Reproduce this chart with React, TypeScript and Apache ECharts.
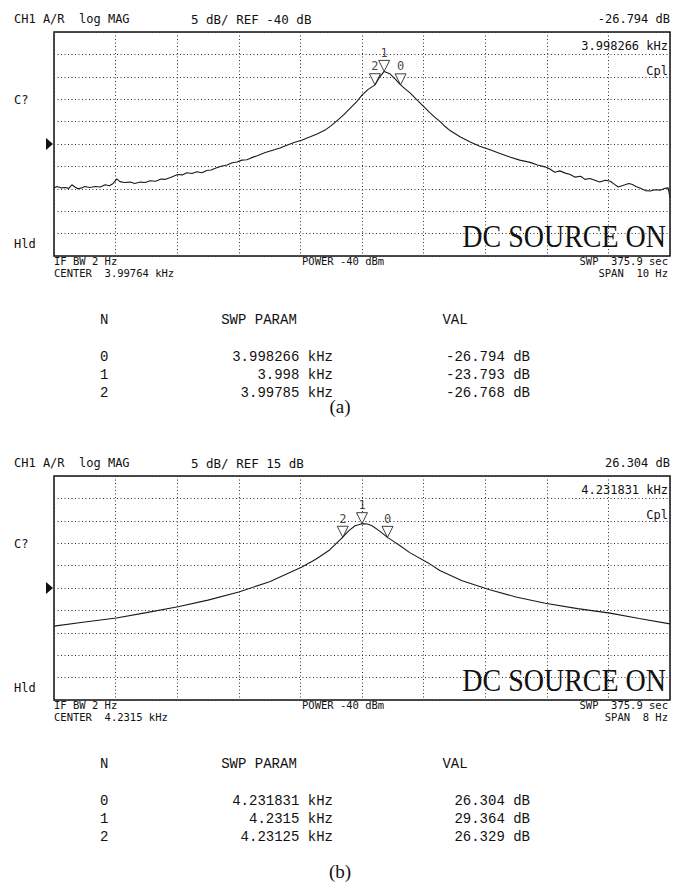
import React, { useEffect, useRef } from "react";
import * as echarts from "echarts";

// ---------- data ----------
const dbPerDiv = 5;
const refLevelA = -40;
const refLevelB = 15;
const centerA_kHz = 3.99764;
const centerB_kHz = 4.2315;
const spanA_Hz = 10;
const spanB_Hz = 8;

const markerIds = ["0", "1", "2"];
const markerFreqA_kHz = [3.998266, 3.998, 3.99785];
const markerValA_dB = [-26.794, -23.793, -26.768];
const markerFreqB_kHz = [4.231831, 4.2315, 4.23125];
const markerValB_dB = [26.304, 29.364, 26.329];

// trace (a): frequency offset from center (Hz), magnitude (dB)
const traceA_offHz = [
  -5.0, -4.95, -4.88, -4.82, -4.76, -4.71, -4.66, -4.61, -4.55, -4.5, -4.42, -4.33, -4.25, -4.17, -4.1, -4.04,
  -3.98, -3.93, -3.86, -3.76, -3.69, -3.6, -3.52, -3.44, -3.35, -3.26, -3.2, -3.1, -2.99, -2.92, -2.84, -2.76,
  -2.68, -2.6, -2.52, -2.45, -2.36, -2.27, -2.19, -2.11, -2.03, -1.95, -1.87, -1.8, -1.7, -1.57, -1.45, -1.33,
  -1.21, -1.09, -0.97, -0.84, -0.72, -0.6, -0.5, -0.39, -0.29, -0.19, -0.09, 0.0, 0.1, 0.21, 0.29, 0.36, 0.45,
  0.54, 0.626, 0.7, 0.78, 0.86, 0.94, 1.02, 1.1, 1.19, 1.27, 1.35, 1.43, 1.59, 1.75, 1.91, 2.08, 2.24, 2.4,
  2.56, 2.73, 2.85, 2.97, 3.05, 3.13, 3.21, 3.3, 3.38, 3.46, 3.55, 3.62, 3.7, 3.78, 3.86, 3.95, 4.03, 4.1,
  4.16, 4.22, 4.27, 4.33, 4.38, 4.45, 4.51, 4.6, 4.68, 4.76, 4.84, 4.92, 4.97, 5.0,
];
const traceA_dB = [
  -49.8, -49.5, -49.8, -49.7, -49.9, -49.1, -49.6, -50.0, -49.8, -49.5, -49.7, -49.5, -49.6, -49.1, -49.3, -48.8,
  -47.8, -48.4, -48.6, -48.5, -48.8, -48.5, -48.6, -48.2, -48.3, -47.8, -47.9, -47.4, -46.8, -46.9, -46.4, -46.6,
  -46.2, -46.4, -45.9, -45.8, -45.3, -44.9, -44.7, -44.2, -44.0, -43.6, -43.5, -43.1, -42.6, -41.9, -41.4, -40.9,
  -40.2, -39.6, -39.1, -38.4, -37.7, -36.9, -35.9, -34.6, -33.4, -32.0, -30.6, -29.1, -27.8, -26.8, -25.0, -23.8, -24.3,
  -25.5, -26.8, -27.7, -28.6, -29.7, -30.8, -31.9, -33.0, -34.1, -35.0, -36.1, -37.0, -38.4, -39.5, -40.5, -41.3, -42.1, -42.9,
  -43.6, -44.1, -44.7, -45.1, -45.6, -46.3, -46.0, -46.5, -46.8, -47.4, -47.2, -47.9, -47.7, -48.1, -48.5, -48.1, -48.3, -49.0,
  -49.6, -49.3, -49.1, -48.8, -49.0, -49.5, -49.8, -50.4, -50.5, -50.2, -50.3, -49.9, -49.8, -52.0,
];

// trace (b)
const traceB_offHz = [
  -4.0, -3.6, -3.19, -2.8, -2.39, -2.0, -1.6, -1.2, -0.78, -0.6, -0.42, -0.29, -0.25, -0.17, -0.09, 0.0, 0.07,
  0.13, 0.23, 0.331, 0.41, 0.49, 0.62, 0.86, 1.01, 1.3, 1.66, 2.0, 2.38, 2.8, 3.22, 3.6, 4.0,
];
const traceB_dB = [
  6.5, 7.4, 8.3, 9.5, 10.8, 12.3, 14.1, 16.4, 19.7, 21.4, 23.5, 25.7, 26.33, 27.8, 28.9, 29.36, 29.3,
  28.9, 27.7, 26.3, 25.4, 24.5, 22.9, 20.6, 18.9, 16.6, 14.6, 13.0, 11.6, 10.4, 9.4, 8.2, 7.0,
];

const ifBwText = "IF BW 2 Hz";
const powerText = "POWER -40 dBm";
const sweepText = "SWP  375.9 sec";
const captions = ["(a)", "(b)"];

// ---------- layout ----------
const W = 686;
const H = 887;
const GL = 54;
const GW = 616;
const GH = 224;
const panelTops = [32, 476];
const captionYs = [406, 871];

const MONO = "'DejaVu Sans Mono', monospace";
const TABLE = "'Liberation Mono', monospace";
const SERIF = "'Liberation Serif', 'Times New Roman', serif";

function txt(text: string, x: number, y: number, font: string, align = "left", extra: any = {}) {
  return {
    type: "text",
    x,
    y,
    silent: true,
    z: 100,
    ...extra,
    style: {
      text,
      x: 0,
      y: 0,
      font,
      fill: "#111",
      align,
      textAlign: align,
      verticalAlign: extra.vAlign || "middle",
      textVerticalAlign: extra.vAlign || "middle",
    },
  };
}

function panelGraphics(i: number, ref: number, center: number, span: number, freqs: number[], vals: number[]) {
  const top = panelTops[i];
  const f12 = `12px ${MONO}`;
  const f11 = `10.5px ${MONO}`;
  const fT = `14px ${TABLE}`;
  const els: any[] = [
    txt("CH1 A/R  log MAG", 14, top - 13, f12),
    txt(`${dbPerDiv} dB/ REF ${ref} dB`, 191, top - 13, `12.5px ${MONO}`),
    txt(`${vals[0].toFixed(3)} dB`, 670, top - 13, f12, "right"),
    txt(`${freqs[0]} kHz`, 668, top + 14, f12, "right"),
    txt("Cpl", 668, top + 39, f12, "right"),
    txt("C?", 14, top + 68, f12),
    txt("Hld", 14, top + 212, f12),
    {
      type: "polygon",
      silent: true,
      shape: { points: [[46, top + GH / 2 - 6], [46, top + GH / 2 + 6], [53, top + GH / 2]] },
      style: { fill: "#111" },
    },
    {
      type: "text",
      x: 666,
      y: top + 220,
      scaleY: 1.1,
      silent: true,
      z: 100,
      style: {
        text: "DC SOURCE ON",
        x: 0,
        y: 0,
        font: `28px ${SERIF}`,
        fill: "#111",
        align: "right",
        textAlign: "right",
        verticalAlign: "bottom",
        textVerticalAlign: "bottom",
      },
    },
    txt(ifBwText, 54, top + 229, f11),
    txt(`CENTER  ${center} kHz`, 54, top + 241, f11),
    txt(powerText, 302, top + 229, f11),
    txt(sweepText, 668, top + 229, f11, "right"),
    txt(`SPAN  ${span} Hz`, 668, top + 241, f11, "right"),
    txt("N", 100, top + 288, fT),
    txt("SWP PARAM", 259, top + 288, fT, "center"),
    txt("VAL", 455, top + 288, fT, "center"),
    txt(captions[i], 340, captionYs[i], `19px ${SERIF}`, "center"),
  ];
  markerIds.forEach((id, k) => {
    const y = top + 325 + k * 18;
    els.push(txt(id, 100, y, fT));
    els.push(txt(`${freqs[k]} kHz`, 333, y, fT, "right"));
    els.push(txt(`${vals[k].toFixed(3)} dB`, 530, y, fT, "right"));
  });
  return els;
}

export default function App() {
  const ref = useRef<HTMLDivElement>(null);
  useEffect(() => {
    if (!ref.current) return;
    const chart = echarts.init(ref.current, undefined, { renderer: "svg" });

    const grids = panelTops.map((t) => ({
      left: GL,
      top: t,
      width: GW,
      height: GH,
      show: true,
      borderColor: "#111",
      borderWidth: 1.5,
      backgroundColor: "transparent",
      containLabel: false,
    }));

    const dotted = { show: true, lineStyle: { color: "#333", width: 1, type: [1, 2.5] } };
    const xAxis = [
      { gridIndex: 0, type: "value", min: -spanA_Hz / 2, max: spanA_Hz / 2, interval: spanA_Hz / 10 },
      { gridIndex: 1, type: "value", min: -spanB_Hz / 2, max: spanB_Hz / 2, interval: spanB_Hz / 10 },
    ].map((a) => ({
      ...a,
      axisLine: { show: false },
      axisTick: { show: false },
      axisLabel: { show: false },
      splitLine: dotted,
    }));
    const yAxis = [
      { gridIndex: 0, type: "value", min: refLevelA - 5 * dbPerDiv, max: refLevelA + 5 * dbPerDiv, interval: dbPerDiv },
      { gridIndex: 1, type: "value", min: refLevelB - 5 * dbPerDiv, max: refLevelB + 5 * dbPerDiv, interval: dbPerDiv },
    ].map((a) => ({
      ...a,
      axisLine: { show: false },
      axisTick: { show: false },
      axisLabel: { show: false },
      splitLine: dotted,
    }));

    const lineSeries = (idx: number, xs: number[], ys: number[]) => ({
      type: "line",
      xAxisIndex: idx,
      yAxisIndex: idx,
      data: xs.map((x, k) => [x, ys[k]]),
      showSymbol: false,
      symbol: "none",
      lineStyle: { color: "#1a1a1a", width: 1.1 },
      z: 5,
    });
    const markerSeries = (idx: number, center: number, freqs: number[], vals: number[]) => ({
      type: "scatter",
      xAxisIndex: idx,
      yAxisIndex: idx,
      data: markerIds.map((id, k) => ({
        name: id,
        value: [Math.round((freqs[k] - center) * 1e6) / 1e3, vals[k]],
      })),
      symbol: "triangle",
      symbolRotate: 180,
      symbolSize: [11, 11],
      symbolOffset: [0, -5.5],
      itemStyle: { color: "#fff", borderColor: "#111", borderWidth: 1 },
      label: {
        show: true,
        position: "top",
        distance: 1,
        formatter: "{b}",
        fontFamily: "DejaVu Sans Mono",
        fontSize: 12,
        color: "#111",
      },
      z: 10,
    });

    chart.setOption({
      animation: false,
      backgroundColor: "#fff",
      grid: grids,
      xAxis,
      yAxis,
      series: [
        lineSeries(0, traceA_offHz, traceA_dB),
        lineSeries(1, traceB_offHz, traceB_dB),
        markerSeries(0, centerA_kHz, markerFreqA_kHz, markerValA_dB),
        markerSeries(1, centerB_kHz, markerFreqB_kHz, markerValB_dB),
      ],
      graphic: [
        ...panelGraphics(0, refLevelA, centerA_kHz, spanA_Hz, markerFreqA_kHz, markerValA_dB),
        ...panelGraphics(1, refLevelB, centerB_kHz, spanB_Hz, markerFreqB_kHz, markerValB_dB),
      ],
    });
    return () => chart.dispose();
  }, []);
  return <div ref={ref} style={{ position: "absolute", left: 0, top: 0, width: W, height: H }} />;
}
